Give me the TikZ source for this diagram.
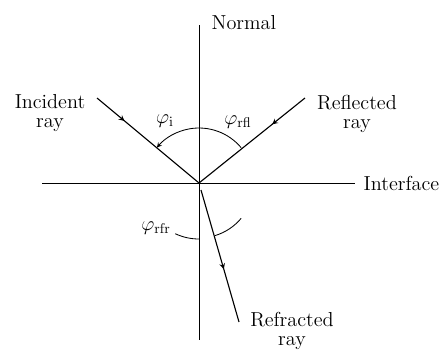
\documentclass[tikz,border=0pt]{standalone}
\usetikzlibrary{arrows, decorations.markings}
\tikzstyle{axis} = [semithick]
\tikzstyle{label} = [font=\Large, inner sep=1pt]
\tikzstyle{twoline} = [font=\Large, inner sep=1pt, align=center]
\tikzset{
    ray/.style={
        thick,
        decoration={markings, mark=at position #1 with {\arrow{stealth}}},
        postaction={decorate}
    }
}
\tikzstyle{anglemark} = [semithick]

\begin{document}
\begin{tikzpicture}[scale=0.025]
\useasboundingbox (-199,-170) rectangle (242,183);

% points
\coordinate (O) at (0,0);
\coordinate (ntop) at (0,158);
\coordinate (nbot) at (0,-157);
\coordinate (ileft) at (-157,0);
\coordinate (iright) at (156,0);
\coordinate (inc) at (-102,85);
\coordinate (refl) at (106,85);
\coordinate (rfrtop) at (2,-7);
\coordinate (rfr) at (40,-139);

% normal and interface
\draw [axis] (ntop) -- (nbot);
\draw [axis] (ileft) -- (iright);

% rays
\draw [ray=0.27] (inc) -- (O);
\draw [ray=0.31] (refl) -- (O);
\draw [ray=0.6] (rfrtop) -- (rfr);

% angles
\draw [anglemark, -stealth] (O) ++(40:55) arc (40:140:55);
\draw [anglemark] (O) ++(245:56) arc (245:270:56);
\draw [anglemark] (O) ++(-73:55) arc (-73:-40:55);

% labels
\node (normal) [label, anchor=west] at (11,160) {Normal};
\node (interface) [label, anchor=west] at (163,0) {Interface};
\node (incident) [twoline] at (-149,70) {Incident\\[-4pt]ray};
\node (reflected) [twoline] at (158,69) {Reflected\\[-4pt]ray};
\node (refracted) [twoline] at (93,-148) {Refracted\\[-4pt]ray};
\node (phii) [label] at (-34,62) {$\varphi_{\mathrm{i}}$};
\node (phirfl) [label] at (39,61) {$\varphi_{\mathrm{rfl}}$};
\node (phirfr) [label] at (-43,-45) {$\varphi_{\mathrm{rfr}}$};

\end{tikzpicture}
\end{document}
